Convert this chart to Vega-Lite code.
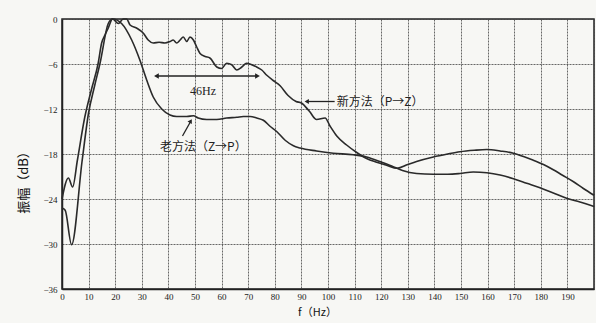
{
  "$schema": "https://vega.github.io/schema/vega-lite/v6.json",
  "width": 532,
  "height": 270,
  "autosize": {"type": "none"},
  "padding": {"left": 62, "top": 19, "right": 2, "bottom": 34},
  "background": "#f7f7f4",
  "config": {
    "view": {"stroke": "#222", "strokeWidth": 1.5},
    "axis": {
      "labelFont": "Liberation Serif",
      "labelFontSize": 9,
      "labelColor": "#222",
      "titleColor": "#111",
      "domainColor": "#222",
      "domainWidth": 1.5,
      "gridColor": "#444",
      "gridDash": [2, 1],
      "gridWidth": 1,
      "gridOpacity": 0.8,
      "ticks": false,
      "labelOverlap": false,
      "labelFlush": false
    }
  },
  "datasets": {
    "curves": [
      {"method": "new", "f": 0, "db": -24.0},
      {"method": "new", "f": 2.4, "db": -21.2},
      {"method": "new", "f": 4, "db": -22.4},
      {"method": "new", "f": 5.8, "db": -18.8},
      {"method": "new", "f": 8.5, "db": -13.2},
      {"method": "new", "f": 11, "db": -9.5},
      {"method": "new", "f": 13.6, "db": -5.9},
      {"method": "new", "f": 14.9, "db": -3.2},
      {"method": "new", "f": 16.2, "db": -2.1},
      {"method": "new", "f": 17.4, "db": -1.2},
      {"method": "new", "f": 19, "db": 0},
      {"method": "new", "f": 21.2, "db": -0.6},
      {"method": "new", "f": 23, "db": 0},
      {"method": "new", "f": 24.3, "db": 0},
      {"method": "new", "f": 25.6, "db": -0.8},
      {"method": "new", "f": 28, "db": -1.2},
      {"method": "new", "f": 30.6, "db": -1.9},
      {"method": "new", "f": 32.4, "db": -2.8},
      {"method": "new", "f": 34.3, "db": -3.2},
      {"method": "new", "f": 36.5, "db": -3.1},
      {"method": "new", "f": 38.7, "db": -3.2},
      {"method": "new", "f": 40.6, "db": -3.0},
      {"method": "new", "f": 41.8, "db": -2.8},
      {"method": "new", "f": 43.1, "db": -3.2},
      {"method": "new", "f": 44.4, "db": -2.8},
      {"method": "new", "f": 45.6, "db": -2.4},
      {"method": "new", "f": 46.9, "db": -3.0},
      {"method": "new", "f": 48.1, "db": -2.4},
      {"method": "new", "f": 49.4, "db": -2.8},
      {"method": "new", "f": 50.6, "db": -3.7},
      {"method": "new", "f": 51.9, "db": -4.6},
      {"method": "new", "f": 53.8, "db": -5.0},
      {"method": "new", "f": 55.6, "db": -5.2},
      {"method": "new", "f": 58.2, "db": -6.4},
      {"method": "new", "f": 60, "db": -6.6},
      {"method": "new", "f": 61.9, "db": -5.9},
      {"method": "new", "f": 63.8, "db": -6.1},
      {"method": "new", "f": 65.7, "db": -6.8},
      {"method": "new", "f": 67.6, "db": -6.4},
      {"method": "new", "f": 69.4, "db": -5.9},
      {"method": "new", "f": 71.3, "db": -6.1},
      {"method": "new", "f": 73.2, "db": -6.4},
      {"method": "new", "f": 75.1, "db": -6.8},
      {"method": "new", "f": 77, "db": -7.5},
      {"method": "new", "f": 79.4, "db": -8.2},
      {"method": "new", "f": 82, "db": -8.9},
      {"method": "new", "f": 85, "db": -10.2},
      {"method": "new", "f": 88, "db": -11.0},
      {"method": "new", "f": 90, "db": -11.2},
      {"method": "new", "f": 93, "db": -12.3},
      {"method": "new", "f": 95.7, "db": -13.4},
      {"method": "new", "f": 98.9, "db": -13.2},
      {"method": "new", "f": 100.8, "db": -14.3},
      {"method": "new", "f": 103.3, "db": -15.6},
      {"method": "new", "f": 107, "db": -16.8},
      {"method": "new", "f": 110.8, "db": -17.8},
      {"method": "new", "f": 114.5, "db": -18.6},
      {"method": "new", "f": 118.3, "db": -19.1},
      {"method": "new", "f": 122, "db": -19.5},
      {"method": "new", "f": 126, "db": -19.9},
      {"method": "new", "f": 130, "db": -19.4},
      {"method": "new", "f": 133.3, "db": -19.0},
      {"method": "new", "f": 139.6, "db": -18.4},
      {"method": "new", "f": 145, "db": -18.0},
      {"method": "new", "f": 149.6, "db": -17.7},
      {"method": "new", "f": 155, "db": -17.5},
      {"method": "new", "f": 159.7, "db": -17.4},
      {"method": "new", "f": 164.7, "db": -17.6},
      {"method": "new", "f": 169.7, "db": -17.9},
      {"method": "new", "f": 174, "db": -18.4},
      {"method": "new", "f": 177, "db": -18.8},
      {"method": "new", "f": 181, "db": -19.4},
      {"method": "new", "f": 184.7, "db": -20.1},
      {"method": "new", "f": 188, "db": -20.8},
      {"method": "new", "f": 192.3, "db": -21.7},
      {"method": "new", "f": 196, "db": -22.6},
      {"method": "new", "f": 200, "db": -23.5},
      {"method": "old", "f": 0, "db": -25.2},
      {"method": "old", "f": 1.2, "db": -25.5},
      {"method": "old", "f": 3.6, "db": -30.1},
      {"method": "old", "f": 7.6, "db": -18.8},
      {"method": "old", "f": 10, "db": -12.5},
      {"method": "old", "f": 12.2, "db": -9.0},
      {"method": "old", "f": 14.3, "db": -5.9},
      {"method": "old", "f": 17.4, "db": -0.6},
      {"method": "old", "f": 19, "db": 0},
      {"method": "old", "f": 22.4, "db": -0.6},
      {"method": "old", "f": 26.2, "db": -2.8},
      {"method": "old", "f": 29.3, "db": -5.5},
      {"method": "old", "f": 31.8, "db": -8.1},
      {"method": "old", "f": 34.3, "db": -10.4},
      {"method": "old", "f": 37.5, "db": -12.0},
      {"method": "old", "f": 40.6, "db": -12.8},
      {"method": "old", "f": 43.1, "db": -13.0},
      {"method": "old", "f": 46.9, "db": -13.0},
      {"method": "old", "f": 49.4, "db": -12.9},
      {"method": "old", "f": 51.2, "db": -13.2},
      {"method": "old", "f": 54.4, "db": -13.4},
      {"method": "old", "f": 58.2, "db": -13.4},
      {"method": "old", "f": 61.9, "db": -13.2},
      {"method": "old", "f": 65.7, "db": -13.1},
      {"method": "old", "f": 68.2, "db": -13.0},
      {"method": "old", "f": 70.7, "db": -13.0},
      {"method": "old", "f": 73.2, "db": -13.2},
      {"method": "old", "f": 75.7, "db": -13.5},
      {"method": "old", "f": 78.2, "db": -14.3},
      {"method": "old", "f": 80.7, "db": -15.0},
      {"method": "old", "f": 84, "db": -16.2},
      {"method": "old", "f": 87, "db": -16.9},
      {"method": "old", "f": 89.5, "db": -17.2},
      {"method": "old", "f": 95.7, "db": -17.6},
      {"method": "old", "f": 102, "db": -17.9},
      {"method": "old", "f": 109.5, "db": -18.1},
      {"method": "old", "f": 114.5, "db": -18.4},
      {"method": "old", "f": 119.5, "db": -19.0},
      {"method": "old", "f": 124.5, "db": -19.7},
      {"method": "old", "f": 128, "db": -20.2},
      {"method": "old", "f": 133.3, "db": -20.6},
      {"method": "old", "f": 139.6, "db": -20.7},
      {"method": "old", "f": 145, "db": -20.7},
      {"method": "old", "f": 149.6, "db": -20.6},
      {"method": "old", "f": 154.6, "db": -20.4},
      {"method": "old", "f": 159.7, "db": -20.5},
      {"method": "old", "f": 164.7, "db": -20.8},
      {"method": "old", "f": 169.7, "db": -21.3},
      {"method": "old", "f": 174.7, "db": -21.9},
      {"method": "old", "f": 179.7, "db": -22.5},
      {"method": "old", "f": 184.7, "db": -23.2},
      {"method": "old", "f": 189.7, "db": -23.9},
      {"method": "old", "f": 194.7, "db": -24.4},
      {"method": "old", "f": 200, "db": -25.0}
    ]
  },
  "layer": [
    {
      "data": {"name": "curves"},
      "mark": {"type": "line", "color": "#2a2a2a", "strokeWidth": 1.6, "interpolate": "monotone"},
      "encoding": {
        "x": {
          "field": "f", "type": "quantitative",
          "scale": {"domain": [0, 200], "nice": false},
          "axis": {
            "values": [0, 10, 20, 30, 40, 50, 60, 70, 80, 90, 100, 110, 120, 130, 140, 150, 160, 170, 180, 190, 200],
            "tickCount": 30,
            "labelExpr": "datum.value == 200 ? '' : datum.label",
            "labelPadding": 3,
            "title": "f（Hz）",
            "titleFont": "Noto Sans CJK SC",
            "titleFontSize": 11,
            "titleFontWeight": "normal",
            "titlePadding": 5,
            "titleX": 255,
            "grid": true
          }
        },
        "y": {
          "field": "db", "type": "quantitative",
          "scale": {"domain": [-36, 0], "nice": false},
          "axis": {
            "values": [-36, -30, -24, -18, -12, -6, 0],
            "labelPadding": 5,
            "title": "振幅（dB）",
            "titleFont": "Noto Sans CJK SC",
            "titleFontSize": 13,
            "titleFontWeight": "normal",
            "titlePadding": 12,
            "titleY": 160,
            "grid": true
          }
        },
        "detail": {"field": "method"}
      }
    },
    {
      "data": {"values": [{"f1": 35.5, "f2": 73.5, "db": -7.6}]},
      "mark": {"type": "rule", "color": "#222", "strokeWidth": 1.3},
      "encoding": {
        "x": {"field": "f1", "type": "quantitative"},
        "x2": {"field": "f2"},
        "y": {"field": "db", "type": "quantitative"}
      }
    },
    {
      "data": {"values": [{"f": 35.5, "db": -7.6}]},
      "mark": {"type": "point", "shape": "triangle-left", "filled": true, "color": "#222", "size": 30, "opacity": 1},
      "encoding": {"x": {"field": "f", "type": "quantitative"}, "y": {"field": "db", "type": "quantitative"}}
    },
    {
      "data": {"values": [{"f": 73.5, "db": -7.6}]},
      "mark": {"type": "point", "shape": "triangle-right", "filled": true, "color": "#222", "size": 30, "opacity": 1},
      "encoding": {"x": {"field": "f", "type": "quantitative"}, "y": {"field": "db", "type": "quantitative"}}
    },
    {
      "data": {"values": [{"f": 53, "db": -9.6, "label": "46Hz"}]},
      "mark": {"type": "text", "font": "Liberation Serif", "fontSize": 12, "color": "#222", "align": "center", "baseline": "middle"},
      "encoding": {"x": {"field": "f", "type": "quantitative"}, "y": {"field": "db", "type": "quantitative"}, "text": {"field": "label"}}
    },
    {
      "data": {"values": [{"f1": 92, "f2": 102.5, "db": -11.0}]},
      "mark": {"type": "rule", "color": "#222", "strokeWidth": 1.3},
      "encoding": {
        "x": {"field": "f1", "type": "quantitative"},
        "x2": {"field": "f2"},
        "y": {"field": "db", "type": "quantitative"}
      }
    },
    {
      "data": {"values": [{"f": 92, "db": -11.0}]},
      "mark": {"type": "point", "shape": "triangle-left", "filled": true, "color": "#222", "size": 25, "opacity": 1},
      "encoding": {"x": {"field": "f", "type": "quantitative"}, "y": {"field": "db", "type": "quantitative"}}
    },
    {
      "data": {"values": [{"f": 103.3, "db": -11.0, "label": "新方法（P→Z）"}]},
      "mark": {"type": "text", "font": "Noto Sans CJK SC", "fontSize": 12, "color": "#222", "align": "left", "baseline": "middle"},
      "encoding": {"x": {"field": "f", "type": "quantitative"}, "y": {"field": "db", "type": "quantitative"}, "text": {"field": "label"}}
    },
    {
      "data": {"values": [{"f1": 45.3, "d1": -15.6, "f2": 48.3, "d2": -13.7}]},
      "mark": {"type": "rule", "color": "#222", "strokeWidth": 1.3},
      "encoding": {
        "x": {"field": "f1", "type": "quantitative"},
        "y": {"field": "d1", "type": "quantitative"},
        "x2": {"field": "f2"},
        "y2": {"field": "d2"}
      }
    },
    {
      "data": {"values": [{"f": 48.4, "db": -13.6}]},
      "mark": {"type": "point", "shape": "triangle-up", "angle": 30, "filled": true, "color": "#222", "size": 25, "opacity": 1},
      "encoding": {"x": {"field": "f", "type": "quantitative"}, "y": {"field": "db", "type": "quantitative"}}
    },
    {
      "data": {"values": [{"f": 36.8, "db": -17.1, "label": "老方法（Z→P）"}]},
      "mark": {"type": "text", "font": "Noto Sans CJK SC", "fontSize": 12, "color": "#222", "align": "left", "baseline": "middle"},
      "encoding": {"x": {"field": "f", "type": "quantitative"}, "y": {"field": "db", "type": "quantitative"}, "text": {"field": "label"}}
    }
  ]
}
